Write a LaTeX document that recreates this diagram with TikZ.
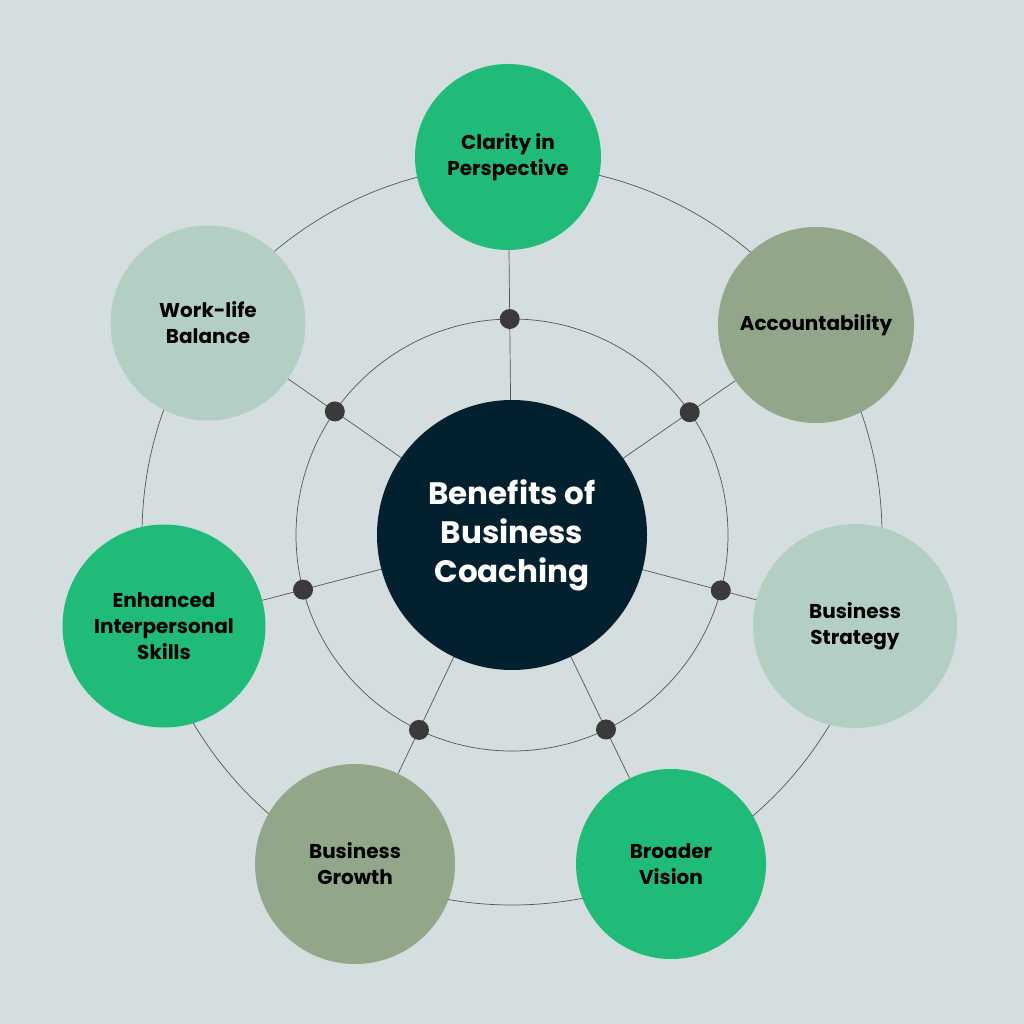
\documentclass[tikz,border=0pt]{standalone}
\usepackage{fontspec}
\setmainfont{Poppins}
\usetikzlibrary{calc}
\definecolor{bgcol}{HTML}{D5DEDF}
\definecolor{leaf}{HTML}{20BB78}
\definecolor{sage}{HTML}{B3CFC3}
\definecolor{olive}{HTML}{92A689}
\definecolor{navy}{HTML}{03202F}
\definecolor{ring}{HTML}{555555}
\definecolor{dotcol}{HTML}{3A3A3A}
\begin{document}
\begin{tikzpicture}[x=1pt,y=-1pt,
  planet/.style={circle,inner sep=0pt,align=center,font=\fontsize{20}{26}\selectfont\bfseries,text=black},
  hub/.style={circle,fill=navy,minimum size=270pt,inner sep=0pt,align=center,text=white,font=\fontsize{31}{39}\selectfont\bfseries},
  spoke/.style={draw=ring,line width=0.7pt},
  joint/.style={circle,fill=dotcol,minimum size=20pt,inner sep=0pt}]
  \fill[bgcol] (0,0) rectangle (1024,1024);
  \useasboundingbox (0,0) rectangle (1024,1024);
  \coordinate (c) at (512,535);
  \draw[spoke] (512,535) circle (370pt);
  \draw[spoke] (512,535) circle (216pt);
  % outer circles
  \node[planet,fill=leaf,minimum size=186pt] (clarity) at (508,157) {Clarity in\\Perspective};
  \node[planet,fill=olive,minimum size=196pt] (account) at (816,325) {Accountability};
  \node[planet,fill=sage,minimum size=204pt] (strategy) at (855,626) {Business\\Strategy};
  \node[planet,fill=leaf,minimum size=190pt] (vision) at (671,864) {Broader\\Vision};
  \node[planet,fill=olive,minimum size=200pt] (growth) at (355,864) {Business\\Growth};
  \node[planet,fill=leaf,minimum size=203pt] (skills) at (164,626) {Enhanced\\Interpersonal\\Skills};
  \node[planet,fill=sage,minimum size=195pt] (balance) at (208,323) {Work-life\\Balance};
  \foreach \p in {clarity,account,strategy,vision,growth,skills,balance}{
    \draw[spoke] (c) -- (\p);
    \node[joint] at ($(c)!216pt!(\p)$) {};
  }
  \node[hub] (hubnode) at (c) {Benefits of\\Business\\Coaching};
\end{tikzpicture}
\end{document}
